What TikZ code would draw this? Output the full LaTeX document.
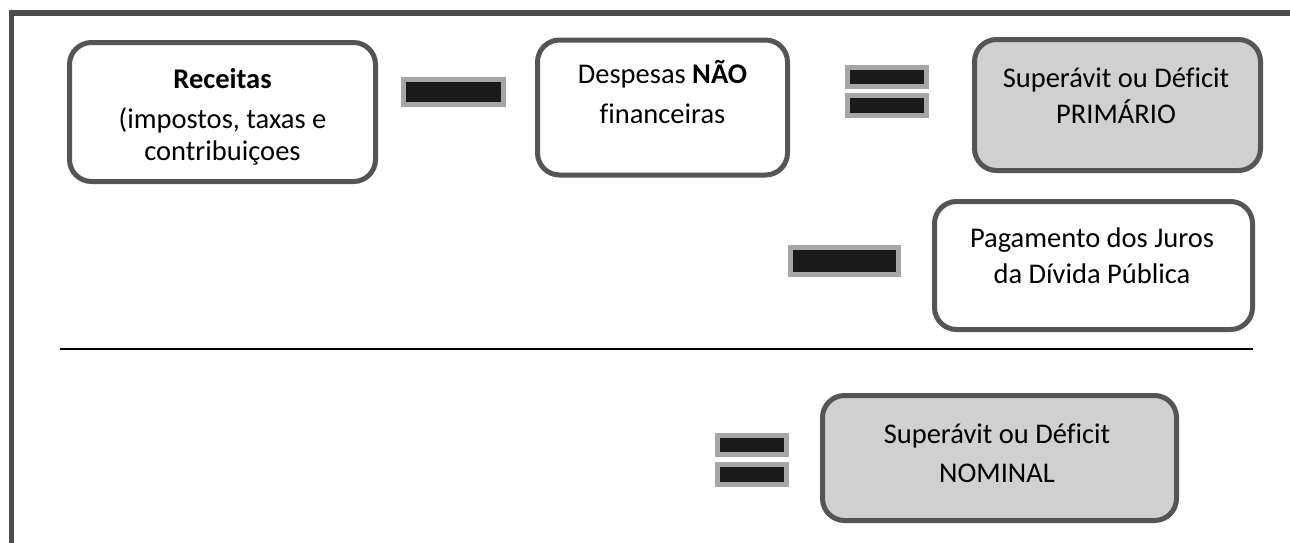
\documentclass[tikz,border=0pt]{standalone}
\usepackage{fontspec}
\setmainfont{Carlito}[Ligatures=NoCommon]
\definecolor{frame}{HTML}{4D4D4D}
\definecolor{boxline}{HTML}{555555}
\definecolor{boxfill}{HTML}{D0D0D0}
\definecolor{barout}{HTML}{A6A6A6}
\definecolor{barin}{HTML}{1A1A1A}
\begin{document}
\begin{tikzpicture}[x=1pt,y=-1pt,
  card/.style={draw=boxline,line width=5pt,rounded corners=22pt,fill=white,inner sep=0pt},
  grayc/.style={card,fill=boxfill},
  bar/.style={draw=barout,fill=barin,line width=5pt,inner sep=0pt},
  txt/.style={anchor=base,inner sep=0pt,font=\fontsize{28.5}{34}\selectfont}]
\useasboundingbox (0,0) rectangle (1290,542);
\clip (0,0) rectangle (1290,542);
\fill[white] (0,0) rectangle (1290,542);
% outer frame
\draw[frame,line width=5.5pt] (11.5,12.75) rectangle (1320,580);
% boxes
\node[card,minimum width=306pt,minimum height=139pt] (rec) at (222.5,112) {};
\node[card,minimum width=250pt,minimum height=135pt] (desp) at (662.5,107.5) {};
\node[grayc,minimum width=286pt,minimum height=131pt] (prim) at (1117.5,105) {};
\node[card,minimum width=318pt,minimum height=128pt] (juros) at (1093.5,265.5) {};
\node[grayc,minimum width=354pt,minimum height=125pt] (nom) at (999.5,458) {};
% texts
\node[txt] (t1) at (222.5,88) {\textbf{Receitas}};
\node[txt] (t2) at (222.5,128) {(impostos, taxas e};
\node[txt] (t3) at (222.5,160) {contribuiçoes};
\node[txt] (t4) at (662.5,83) {Despesas \textbf{NÃO}};
\node[txt] (t5) at (662.5,123) {financeiras};
\node[txt] (t6) at (1116,87) {Superávit ou Déficit};
\node[txt] (t7) at (1116,123) {PRIMÁRIO};
\node[txt] (t8) at (1092,247) {Pagamento dos Juros};
\node[txt] (t9) at (1092,283) {da Dívida Pública};
\node[txt] (t10) at (997,443) {Superávit ou Déficit};
\node[txt] (t11) at (997,482) {NOMINAL};
% operators
\node[bar,minimum width=100pt,minimum height=25pt] (m1) at (453.5,92) {};
\node[bar,minimum width=79pt,minimum height=19pt] (e1a) at (887,77) {};
\node[bar,minimum width=79pt,minimum height=20pt] (e1b) at (887,105.5) {};
\node[bar,minimum width=108pt,minimum height=27pt] (m2) at (844.5,261) {};
\node[bar,minimum width=69pt,minimum height=19pt] (e2a) at (752,445) {};
\node[bar,minimum width=69pt,minimum height=20pt] (e2b) at (752,474.5) {};
% separator line
\coordinate (l1) at (60,349);
\coordinate (l2) at (1253,349);
\draw[line width=1.3pt,black] (l1) -- (l2);
\end{tikzpicture}
\end{document}
